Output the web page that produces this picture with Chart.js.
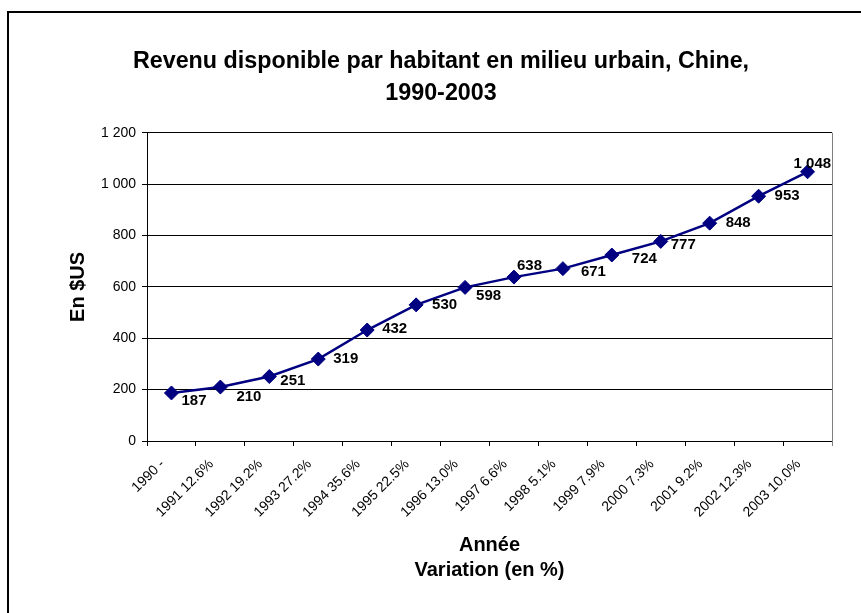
<!DOCTYPE html>
<html lang="fr">
<head>
<meta charset="UTF-8">
<title>Revenu disponible par habitant en milieu urbain, Chine, 1990-2003</title>
<script src="https://cdn.jsdelivr.net/npm/chart.js"></script>
<style>
  body { margin: 0; background: #fff; }
  .wrap { width: 861px; height: 613px; position: relative; }
</style>
</head>
<body>
<div class="wrap"><canvas id="revenuChart"></canvas></div>
<script>
// data
const years = ['1990', '1991', '1992', '1993', '1994', '1995', '1996', '1997', '1998', '1999', '2000', '2001', '2002', '2003'];
const variation = ['-', '12.6%', '19.2%', '27.2%', '35.6%', '22.5%', '13.0%', '6.6%', '5.1%', '7.9%', '7.3%', '9.2%', '12.3%', '10.0%'];
const revenu = [187, 210, 251, 319, 432, 530, 598, 638, 671, 724, 777, 848, 953, 1048];
const yTicks = [0, 200, 400, 600, 800, 1000, 1200];

const labels = years.map((y, i) => y + ' ' + variation[i]);
const FONT = 'Arial, "Liberation Sans", sans-serif';

// "1 200" style numbers
function fmt(v) {
    return String(v).replace(/\B(?=(\d{3})+(?!\d))/g, ' ');
}

// nudge of each value label from its marker (dx to text left edge, dy to text middle)
const labelNudge = [[10, 8], [16, 10], [11, 4], [15, 0], [15, -1], [16, 0], [11, 8],
                    [3, -11], [18, 3], [20, 4], [10, 3], [16, 0], [16, 0], [-14, -8]];

const valueLabels = {
    id: 'valueLabels',
    afterDatasetsDraw(chart) {
        const ctx = chart.ctx;
        const meta = chart.getDatasetMeta(0);
        ctx.save();
        ctx.font = 'bold 15px ' + FONT;
        ctx.fillStyle = '#000';
        ctx.textAlign = 'left';
        ctx.textBaseline = 'middle';
        meta.data.forEach((pt, i) => {
            const n = labelNudge[i];
            ctx.fillText(fmt(revenu[i]), pt.x + n[0], pt.y + n[1]);
        });
        ctx.restore();
    }
};

// outer frame and the grey right edge of the plot area
const frame = {
    id: 'frame',
    beforeDraw(chart) {
        const ctx = chart.ctx;
        ctx.save();
        ctx.fillStyle = '#fff';
        ctx.fillRect(0, 0, chart.width, chart.height);
        ctx.strokeStyle = '#000';
        ctx.lineWidth = 2;
        ctx.strokeRect(8, 12, chart.width + 20, chart.height + 20);
        ctx.restore();
    },
    afterDraw(chart) {
        const a = chart.chartArea;
        const ctx = chart.ctx;
        ctx.save();
        ctx.strokeStyle = '#808080';
        ctx.lineWidth = 1;
        ctx.beginPath();
        ctx.moveTo(a.right + 0.5, a.top);
        ctx.lineTo(a.right + 0.5, a.bottom + 5);
        ctx.stroke();
        ctx.restore();
    }
};

const ctx = document.getElementById('revenuChart').getContext('2d');
const chart = new Chart(ctx, {
    type: 'line',
    data: {
        labels: labels,
        datasets: [{
            label: 'Revenu disponible',
            data: revenu,
            borderColor: '#000080',
            backgroundColor: '#000080',
            borderWidth: 2.5,
            pointStyle: 'rectRot',
            pointRadius: 7,
            pointBackgroundColor: '#000080',
            pointBorderColor: '#000080',
            pointBorderWidth: 1,
            tension: 0
        }]
    },
    options: {
        responsive: true,
        maintainAspectRatio: false,
        animation: false,
        layout: { padding: { top: 12, left: 50, right: 29, bottom: 0 } },
        plugins: {
            legend: { display: false },
            tooltip: { enabled: false },
            title: {
                display: true,
                text: ['Revenu disponible par habitant en milieu urbain, Chine,', '1990-2003'],
                color: '#000',
                font: { family: FONT, size: 23.3, weight: 'bold', lineHeight: 1.4 },
                padding: { top: 33, bottom: 22.5 }
            }
        },
        scales: {
            x: {
                offset: true,
                afterFit: s => { s.height = 172; },
                grid: { offset: true, drawOnChartArea: false, drawTicks: true, tickLength: 5, color: '#000' },
                border: { color: '#000', width: 1 },
                ticks: {
                    color: '#000',
                    font: { family: FONT, size: 14 },
                    minRotation: 45,
                    maxRotation: 45,
                    autoSkip: false,
                    padding: 10,
                    labelOffset: -9
                },
                title: {
                    display: true,
                    text: ['Année', 'Variation (en %)'],
                    color: '#000',
                    font: { family: FONT, size: 20, weight: 'bold', lineHeight: 1.25 },
                    padding: { top: 0, bottom: 30.5 }
                }
            },
            y: {
                min: yTicks[0],
                max: yTicks[yTicks.length - 1],
                afterFit: s => { s.width = 97; },
                afterBuildTicks: s => { s.ticks = yTicks.map(v => ({ value: v })); },
                grid: { color: '#000', tickLength: 5, drawTicks: true },
                border: { color: '#000', width: 1 },
                ticks: {
                    color: '#000',
                    font: { family: FONT, size: 14 },
                    padding: 6,
                    callback: v => fmt(v)
                },
                title: {
                    display: true,
                    text: 'En $US',
                    color: '#000',
                    font: { family: FONT, size: 20, weight: 'bold', lineHeight: 1.2 },
                    padding: { top: 16, bottom: 0 }
                }
            }
        }
    },
    plugins: [frame, valueLabels]
});
</script>
</body>
</html>
